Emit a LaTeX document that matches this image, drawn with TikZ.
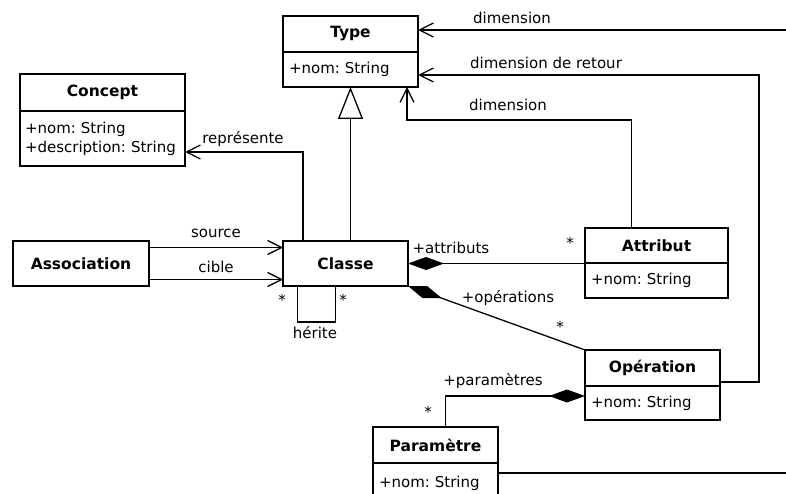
\documentclass[tikz,border=0pt]{standalone}
\usepackage{fontspec}
\setmainfont{DejaVu Sans}
\frenchspacing
\usepackage{tikz}
\usetikzlibrary{arrows.meta}
\usetikzlibrary{positioning}
\tikzset{
	class node/.style={draw,font=\fontsize{15.5}{18}\selectfont\bfseries,align=center,text width=#1,
		minimum height=36pt,inner xsep=6pt,outer sep=0pt,anchor=north west},
	attr node/.style={draw,font=\fontsize{15}{19}\selectfont,align=left,text width=#1,
		inner xsep=6pt,outer sep=0pt},
	label node/.style={font=\fontsize{15}{18}\selectfont,inner sep=0pt},
	nav/.style={-{Straight Barb[length=14pt,width=14pt]}},
	gen/.style={-{Triangle[open,length=32pt,width=25pt,fill=white]}},
	comp/.style={{Diamond[length=36pt,width=13pt]}-}
}

\begin{document}
\begin{tikzpicture}[x=1pt,y=-1pt,line width=1.3pt]
	\useasboundingbox (0,0) rectangle (786,494);
	% classes
	\node[class node=123pt] (type) at (283,16) {Type};
	\node[attr node=123pt,minimum height=35pt,below=0pt of type] (typeatt) {+nom: String};
	\node[class node=153pt,minimum height=37pt] (concept) at (20,74) {Concept};
	\node[attr node=155pt,inner xsep=5pt,minimum height=55pt,below=0pt of concept] (conceptatt) {+nom: String\\+description: String};
	\node[class node=124pt,minimum height=45pt] (assoc) at (13,241) {Association};
	\node[class node=113pt,minimum height=45pt] (classe) at (283,241) {Classe};
	\node[class node=131pt,minimum height=35pt] (attribut) at (585,228) {Attribut};
	\node[attr node=131pt,minimum height=35pt,below=0pt of attribut] (attributatt) {+nom: String};
	\node[class node=123pt] (operation) at (585,350) {Opération};
	\node[attr node=123pt,minimum height=34pt,below=0pt of operation] (operationatt) {+nom: String};
	\node[class node=113pt] (param) at (373,427) {Paramètre};
	\node[attr node=113pt,minimum height=40pt,below=0pt of param] (paramatt) {+nom: String};

	% bends and free ends
	\coordinate (e1) at (786,30);
	\coordinate (e2) at (786,473);
	\coordinate (r1) at (759,75);
	\coordinate (r2) at (407,120);
	\coordinate (r3) at (303,152);

	% links
	\draw[nav] (e1) -- (e1 -| type.east);
	\draw[nav] ([yshift=4pt]operation.south east) -| (r1) -- (r1 -| typeatt.east);
	\draw[nav] ([xshift=-25pt]attribut.north) |- (r2) -- (r2 |- typeatt.south);
	\draw[gen] (classe.north -| typeatt.south) -- (typeatt.south);
	\draw[nav] (r3 |- classe.north) -- (r3) -- (r3 -| conceptatt.east);
	\draw[nav] ([yshift=16pt]assoc.east) -- ([yshift=16pt]classe.west);
	\draw[nav] ([yshift=-16pt]assoc.east) -- ([yshift=-16pt]classe.west);
	\draw ([xshift=-48pt]classe.south) -- ++(0,36) -| ([xshift=-10pt]classe.south);
	\draw[comp] (classe.east) -- (classe.east -| attribut.west);
	\draw[comp] (classe.south east) -- (operation.north west);
	\draw[comp] ([yshift=-10pt]operation.south west) -| ([xshift=10pt]param.north);
	\draw (e2 -| paramatt.east) -- (e2);

	% labels
	\node[label node] (dim1) at (512,18) {dimension};
	\node[label node] (dim2) at (546,63) {dimension de retour};
	\node[label node] (dim3) at (508,105) {dimension};
	\node[label node] (rep) at (243,139) {représente};
	\node[label node] (src) at (216,233) {source};
	\node[label node] (cib) at (216,267) {cible};
	\node[label node] (her) at (315,333) {hérite};
	\node[label node] (herA) at (282,300) {*};
	\node[label node] (herB) at (343,300) {*};
	\node[label node,anchor=west] (attr) at (412,248) {+attributs};
	\node[label node] (attrM) at (570,243) {*};
	\node[label node] (oper) at (508,298) {+opérations};
	\node[label node] (operM) at (560,327) {*};
	\node[label node] (para) at (493,381) {+paramètres};
	\node[label node] (paraM) at (428,412) {*};
\end{tikzpicture}
\end{document}
